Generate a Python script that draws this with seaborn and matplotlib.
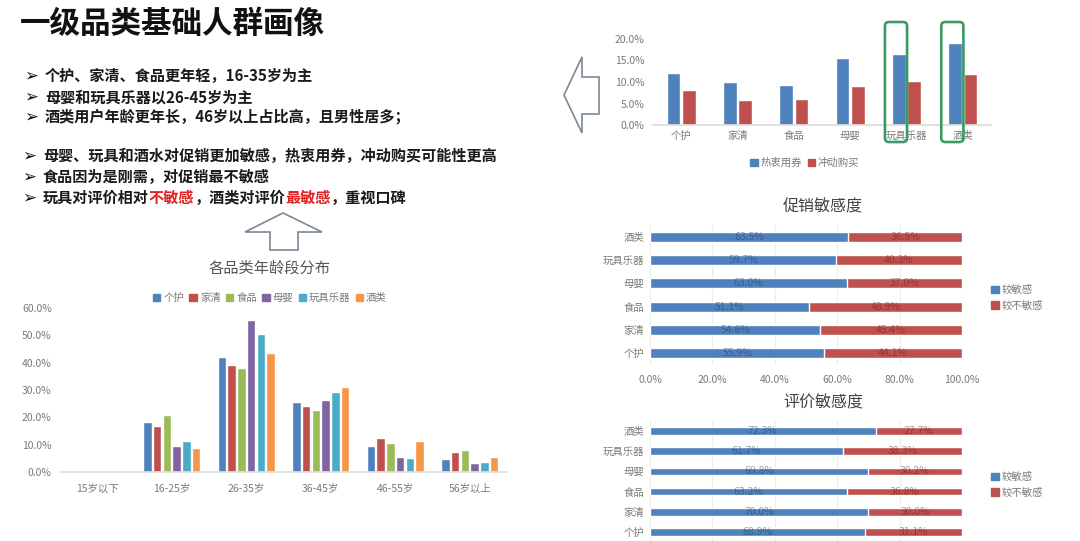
import numpy as np
import pandas as pd
import matplotlib
matplotlib.use('Agg')
import matplotlib.pyplot as plt
import seaborn as sns
from matplotlib.patches import Patch, FancyBboxPatch, Polygon
from matplotlib.transforms import IdentityTransform

# ---------------- data ----------------
age_groups = ['15岁以下', '16-25岁', '26-35岁', '36-45岁', '46-55岁', '56岁以上']
categories = ['个护', '家清', '食品', '母婴', '玩具乐器', '酒类']
age_gehu = [0.2, 18.3, 42.1, 25.6, 9.5, 4.6]
age_jiaqing = [0.2, 17.0, 39.3, 24.1, 12.3, 7.4]
age_shipin = [0.2, 20.7, 38.0, 22.8, 10.7, 7.9]
age_muying = [0.2, 9.5, 55.7, 26.3, 5.4, 3.4]
age_wanju = [0.2, 11.5, 50.5, 29.3, 5.2, 3.7]
age_jiulei = [0.2, 8.8, 43.4, 31.2, 11.3, 5.4]

coupon = [12.2, 9.9, 9.2, 15.5, 16.5, 19.1]      # 热衷用券
impulse = [8.1, 5.8, 6.0, 9.1, 10.3, 11.8]      # 冲动购买

promo_sens = [55.9, 54.6, 51.1, 63.0, 59.7, 63.5]
promo_insens = [44.1, 45.4, 48.9, 37.0, 40.3, 36.5]
review_sens = [68.9, 70.0, 63.2, 69.8, 61.7, 72.3]
review_insens = [31.1, 30.0, 36.8, 30.2, 38.3, 27.7]

pal6 = ['#4f81bd', '#c0504d', '#9bbb59', '#8064a2', '#4bacc6', '#f79646']
BLUE, RED = '#4f81bd', '#c0504d'

# ---------------- setup ----------------
sns.set_theme(style='white')
plt.rcParams['font.family'] = ['Noto Sans CJK SC', 'DejaVu Sans']
W, H = 1080, 541
fig = plt.figure(figsize=(W / 100, H / 100), dpi=100)
fig.patch.set_facecolor('white')


def ax_px(l, t, r, b):
    return fig.add_axes([l / W, 1 - b / H, (r - l) / W, (b - t) / H])


def P(x, y):
    return (x / W, 1 - y / H)


GRAY = '#7a7a7a'

# ---------------- headline & bullets ----------------
fig.text(*P(20, 24), '一级品类基础人群画像', fontsize=22, weight='bold',
         color='#111111', va='center')

bfs = 10.9
bullets = [
    (76, '个护、家清、食品更年轻，16-35岁为主'),
    (97, '母婴和玩具乐器以26-45岁为主'),
    (117, '酒类用户年龄更年长，46岁以上占比高，且男性居多；'),
    (156, '母婴、玩具和酒水对促销更加敏感，热衷用券，冲动购买可能性更高'),
    (177, '食品因为是刚需，对促销最不敏感'),
]
for y, s in bullets:
    xa = 24 if y < 130 else 22
    fig.text(*P(xa, y), '➢', fontsize=12, family=['DejaVu Sans'], color='#111', va='center')
    fig.text(*P(xa + 21, y), s, fontsize=bfs, weight='bold', color='#1a1a1a', va='center')

fig.text(*P(22, 198), '➢', fontsize=12, family=['DejaVu Sans'], color='#111', va='center')
renderer = fig.canvas.get_renderer()
pieces = [('玩具对评价相对', '#1a1a1a'), ('不敏感', '#e02424'), ('，酒类对评价', '#1a1a1a'),
          ('最敏感', '#e02424'), ('，重视口碑', '#1a1a1a')]
xc = 43
for s, c in pieces:
    t = fig.text(*P(xc, 198), s, fontsize=bfs, weight='bold', color=c, va='center')
    xc += t.get_window_extent(renderer).width

# arrows
up = [(283, 213), (322, 232), (298, 232), (298, 250), (270, 250), (270, 232), (245, 232)]
fig.add_artist(Polygon([P(*p) for p in up], closed=True, transform=fig.transFigure,
                       facecolor='white', edgecolor='#7d8796', lw=1.2))
left = [(564, 95), (582, 57), (582, 77), (599, 77), (599, 114), (582, 114), (582, 133)]
fig.add_artist(Polygon([P(*p) for p in left], closed=True, transform=fig.transFigure,
                       facecolor='white', edgecolor='#7d8796', lw=1.2))

# ---------------- age distribution chart ----------------
df_age = pd.DataFrame({
    'age': age_groups * 6,
    'cat': np.repeat(categories, 6),
    'val': np.concatenate([age_gehu, age_jiaqing, age_shipin, age_muying, age_wanju, age_jiulei]),
})
ax1 = ax_px(60, 308, 507, 472)
sns.barplot(data=df_age, x='age', y='val', hue='cat', order=age_groups, hue_order=categories,
            palette=pal6, width=0.78, gap=0.12, saturation=1, legend=False, ax=ax1)
ax1.set_xlim(-0.5, 5.5)
ax1.set_ylim(0, 60)
ax1.set_yticks(np.arange(0, 61, 10))
ax1.set_yticklabels([f'{v:.1f}%' for v in range(0, 61, 10)])
ax1.set_xlabel('')
ax1.set_ylabel('')
for s in ['top', 'right', 'left']:
    ax1.spines[s].set_visible(False)
ax1.spines['bottom'].set_color('#dddddd')
ax1.tick_params(axis='both', length=0, labelsize=7.5, colors=GRAY)
ax1.tick_params(axis='x', pad=8)
ax1.tick_params(axis='y', pad=6)
fig.text(*P(270, 268), '各品类年龄段分布', fontsize=11, color='#555555', ha='center', va='center')
fig.legend(handles=[Patch(color=c, label=l) for c, l in zip(pal6, categories)],
           loc='center', bbox_to_anchor=P(270, 298), ncol=6, frameon=False, fontsize=7.5,
           handlelength=0.7, handleheight=0.7, handletextpad=0.3, columnspacing=0.5,
           labelcolor=GRAY)

# ---------------- coupon / impulse chart ----------------
df_top = pd.DataFrame({'cat': categories * 2,
                       'metric': ['热衷用券'] * 6 + ['冲动购买'] * 6,
                       'val': coupon + impulse})
ax2 = ax_px(653, 39, 991, 125)
sns.barplot(data=df_top, x='cat', y='val', hue='metric', order=categories,
            hue_order=['热衷用券', '冲动购买'], palette=[BLUE, RED], width=0.55, gap=0.12,
            saturation=1, legend=False, ax=ax2)
ax2.set_xlim(-0.5, 5.5)
ax2.set_ylim(0, 20)
ax2.set_yticks(np.arange(0, 21, 5))
ax2.set_yticklabels([f'{v:.1f}%' for v in range(0, 21, 5)])
ax2.set_xlabel('')
ax2.set_ylabel('')
for s in ['top', 'right', 'left']:
    ax2.spines[s].set_visible(False)
ax2.spines['bottom'].set_color('#dddddd')
ax2.tick_params(axis='both', length=0, labelsize=7.5, colors=GRAY)
ax2.tick_params(axis='x', pad=4)
ax2.tick_params(axis='y', pad=6)
fig.legend(handles=[Patch(color=BLUE, label='热衷用券'), Patch(color=RED, label='冲动购买')],
           loc='center', bbox_to_anchor=P(805, 163), ncol=2, frameon=False, fontsize=7.5,
           handlelength=0.7, handleheight=0.7, handletextpad=0.3, columnspacing=0.5,
           labelcolor=GRAY)
# green highlight boxes around 玩具乐器 and 酒类 coupon bars
for idx in [4, 5]:
    bar = ax2.patches[idx]
    x0d, _ = ax2.transData.transform((bar.get_x(), 0))
    x1d, _ = ax2.transData.transform((bar.get_x() + bar.get_width(), 0))
    top_px = H - 22
    bot_px = H - 142
    box = FancyBboxPatch((x0d - 7, bot_px), (x1d - x0d) + 8.5, top_px - bot_px,
                         boxstyle='round,pad=0,rounding_size=4', transform=IdentityTransform(),
                         facecolor='none', edgecolor='#3b9a63', lw=1.9)
    fig.add_artist(box)


# ---------------- stacked sensitivity charts ----------------
def stacked(ax, sens, insens, title, title_y, leg_y, bar_w, show_x=True):
    df = pd.DataFrame({'cat': categories, 'sens': sens, 'insens': insens})
    df['total'] = df['sens'] + df['insens']
    order = categories[::-1]
    ax.set_axisbelow(True)
    ax.grid(axis='x', color='#ececec', lw=0.8)
    sns.barplot(data=df, y='cat', x='total', order=order, color=RED, width=bar_w,
                saturation=1, ax=ax)
    sns.barplot(data=df, y='cat', x='sens', order=order, color=BLUE, width=bar_w,
                saturation=1, ax=ax)
    ax.set_xlim(0, 100)
    ax.set_xticks(np.arange(0, 101, 20))
    ax.set_xticklabels([f'{v:.1f}%' for v in range(0, 101, 20)])
    ax.set_xlabel('')
    ax.set_ylabel('')
    for s in ax.spines.values():
        s.set_visible(False)
    ax.tick_params(axis='both', length=0, labelsize=7.5, colors=GRAY)
    ax.tick_params(axis='y', pad=4)
    ax.tick_params(axis='x', pad=7, labelbottom=show_x)
    for i, c in enumerate(order):
        r = df[df.cat == c].iloc[0]
        ax.text(r.sens / 2, i, f'{r.sens:.1f}%', ha='center', va='center', fontsize=7.5,
                color='#1d3557', alpha=0.45)
        ax.text(r.sens + r.insens / 2, i, f'{r.insens:.1f}%', ha='center', va='center',
                fontsize=7.5, color='#5a1a1a', alpha=0.45)
    fig.text(*P(823, title_y), title, fontsize=11.5, color='#444444', ha='center', va='center')
    fig.legend(handles=[Patch(color=BLUE, label='较敏感'), Patch(color=RED, label='较不敏感')],
               loc='center left', bbox_to_anchor=P(982, leg_y), ncol=1, frameon=False,
               fontsize=7.5, handlelength=0.7, handleheight=0.7, handletextpad=0.3,
               labelspacing=0.5, labelcolor=GRAY)


ax3 = ax_px(650, 225, 962, 365)
stacked(ax3, promo_sens, promo_insens, '促销敏感度', 207, 298, 0.42)
ax4 = ax_px(650, 421, 962, 542)
stacked(ax4, review_sens, review_insens, '评价敏感度', 403, 485, 0.38, show_x=False)

fig.savefig('out.png', dpi=100, facecolor='white')
